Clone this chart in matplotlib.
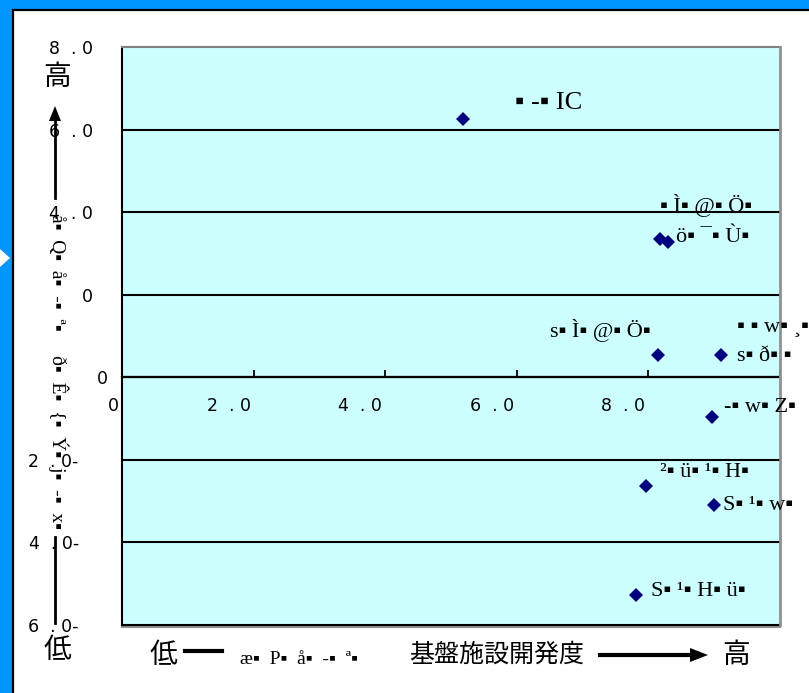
import matplotlib
matplotlib.use("Agg")
import matplotlib.pyplot as plt
from matplotlib.patches import Rectangle, Polygon
from matplotlib.lines import Line2D
import matplotlib.transforms as mtransforms

# ---------------- data ----------------
x_vals = [5.18, 8.18, 8.30, 8.15, 9.10, 8.97, 7.96, 9.00, 7.81]
y_vals = [6.25, 3.34, 3.27, 0.53, 0.53, -0.97, -2.64, -3.10, -5.28]

# point labels (garbled text as shown), index of point they belong to
label_texts = ["▪ ‐▪ IC", "▪ Ì▪ @▪ Ö▪", "ö▪ ¯▪ Ù▪", "s▪ Ì▪ @▪ Ö▪",
               "▪ ▪ w▪ ¸▪", "s▪ ð▪ ▪", "‐▪ w▪ Z▪", "²▪ ü▪ ¹▪ H▪",
               "S▪ ¹▪ w▪", "S▪ ¹▪ H▪ ü▪"]
label_point = [0, 1, 2, 3, 4, 4, 5, 6, 7, 8]

x_ticks = [0, 2, 4, 6, 8, 10]
x_ticklabels = ["0", "2  . 0", "4  . 0", "6  . 0", "8  . 0", ""]
y_ticks = [-6, -4, -2, 0, 2, 4, 6, 8]
y_ticklabels = ["6  . 0-", "4  . 0-", "2  . 0-", "0", "0", "4  . 0", "6  . 0", "8  . 0"]

y_axis_text = "å▪  Q▪  å▪  ‐▪  ª▪     ð▪  Ê▪  {▪  Ý▪  j▪  ‐▪  x▪"
x_garbled = "æ▪  P▪  å▪  ‐▪  ª▪"
x_title = "基盤施設開発度"
high_txt = "高"
low_txt = "低"

# ---------------- layout / style ----------------
W, H = 809, 693
label_offsets = [(52, 16, 'left'), (0, 34, 'left'), (8, 5, 'left'), (-8, 25, 'right'),
                 (16, 29, 'left'), (16, -1, 'left'), (12, 10, 'left'), (14, 14, 'left'),
                 (9, 0, 'left'), (15, 4, 'left')]
label_sizes = [19, 16, 16, 16, 16, 16, 16, 16, 16, 16]

garb_font = ['Liberation Serif', 'DejaVu Sans']
cjk_font = ['Noto Sans CJK JP', 'DejaVu Sans']
tick_font = 'DejaVu Sans'

fig = plt.figure(figsize=(W / 100, H / 100), dpi=100, facecolor='#0096FF')

def fx(px):
    return px / W

def fy(py):
    return 1 - py / H

# white panel
fig.patches.append(Rectangle((fx(13), -0.02), 1.0, fy(10) + 0.02, transform=fig.transFigure,
                             facecolor='white', edgecolor='black', linewidth=1.6, zorder=-10))
# small white triangle at left
fig.patches.append(Polygon([(0, fy(249)), (0, fy(267)), (fx(10), fy(258))], closed=True,
                           transform=fig.transFigure, facecolor='white', edgecolor='none', zorder=-5))

ax = fig.add_axes([fx(122), fy(625), fx(780) - fx(122), fy(47) - fy(625)])
ax.set_zorder(1)
ax.set_facecolor('#CCFFFF')
ax.set_xlim(0, 10)
ax.set_ylim(-6, 8)

for s in ['top', 'right', 'left']:
    ax.spines[s].set_visible(False)
ax.spines['bottom'].set_position(('data', 0))
ax.spines['bottom'].set_linewidth(1.6)
ax.spines['bottom'].set_color('black')

# frame
ax.plot([0, 0], [0, 1], transform=ax.transAxes, color='black', lw=1.5, clip_on=False, zorder=5)
ax.plot([0, 1], [0, 0], transform=ax.transAxes, color='black', lw=1.5, clip_on=False, zorder=5)
ax.plot([0, 1], [-0.004, -0.004], transform=ax.transAxes, color='#909090', lw=1.5, clip_on=False, zorder=4)
ax.plot([0, 1], [1, 1], transform=ax.transAxes, color='#808080', lw=1.5, clip_on=False, zorder=5)
ax.plot([1, 1], [0, 1], transform=ax.transAxes, color='#909090', lw=2.0, clip_on=False, zorder=5)

# ticks
ax.set_xticks(x_ticks)
ax.set_xticklabels(x_ticklabels, fontfamily=tick_font, fontsize=12.5)
ax.tick_params(axis='x', direction='in', length=5, width=1.3, pad=14, colors='black')
for lab in ax.get_xticklabels():
    lab.set_ha('right')
    lab.set_transform(lab.get_transform() + mtransforms.ScaledTranslation(-3 / 100, 0, fig.dpi_scale_trans))

ax.set_yticks(y_ticks)
ax.set_yticklabels(y_ticklabels, fontfamily=tick_font, fontsize=12.5)
ax.tick_params(axis='y', length=0, pad=21)
for val, lab in zip(y_ticks, ax.get_yticklabels()):
    if val == 0:
        dx = 15
    elif val < 0:
        dx = -14
    else:
        dx = 0
    lab.set_transform(lab.get_transform() + mtransforms.ScaledTranslation(dx / 100, 0, fig.dpi_scale_trans))

ax.yaxis.grid(True, color='black', linewidth=1.5)
ax.set_axisbelow(True)
gl = ax.yaxis.get_gridlines()
gl[-1].set_visible(False)
gl[0].set_visible(False)

# points
ax.plot(x_vals, y_vals, linestyle='none', marker='D', markersize=6.8,
        color='#000080', markeredgewidth=0, zorder=6, clip_on=False)

# point labels
for txt, pi, (dx, dy, ha), fs in zip(label_texts, label_point, label_offsets, label_sizes):
    ax.annotate(txt, xy=(x_vals[pi], y_vals[pi]), xytext=(dx, dy), textcoords='offset pixels',
                ha=ha, va='center', fontsize=fs, family=garb_font, annotation_clip=False,
                clip_on=False, zorder=7)

# y-axis decorations
fig.text(fx(57), fy(77), high_txt, fontsize=20, family=cjk_font, ha='center', va='center')
fig.text(fx(57), fy(650), low_txt, fontsize=20, family=cjk_font, ha='center', va='center')
fig.text(fx(58), fy(372), y_axis_text, rotation=-90, fontsize=14, family=garb_font,
         ha='center', va='center')
fig.add_artist(Line2D([fx(55), fx(55)], [fy(198), fy(118)], transform=fig.transFigure,
                      color='black', lw=2))
fig.patches.append(Polygon([(fx(55), fy(106)), (fx(49), fy(121)), (fx(61), fy(121))], closed=True,
                           transform=fig.transFigure, facecolor='black', edgecolor='none'))
fig.add_artist(Line2D([fx(55), fx(55)], [fy(537), fy(623)], transform=fig.transFigure,
                      color='black', lw=2))

# x-axis decorations
fig.text(fx(163), fy(655), low_txt, fontsize=20, family=cjk_font, ha='center', va='center')
fig.add_artist(Line2D([fx(185), fx(222)], [fy(651), fy(651)], transform=fig.transFigure,
                      color='black', lw=3))
fig.text(fx(240), fy(660), x_garbled, fontsize=14, family=garb_font, ha='left', va='center')
fig.text(fx(497), fy(655), x_title, fontsize=18, family=cjk_font, ha='center', va='center')
fig.add_artist(Line2D([fx(600), fx(692)], [fy(655), fy(655)], transform=fig.transFigure,
                      color='black', lw=3))
fig.patches.append(Polygon([(fx(708), fy(655)), (fx(690), fy(648)), (fx(690), fy(662))], closed=True,
                           transform=fig.transFigure, facecolor='black', edgecolor='none'))
fig.text(fx(736), fy(655), high_txt, fontsize=20, family=cjk_font, ha='center', va='center')

fig.savefig('out.png', dpi=100, facecolor=fig.get_facecolor())
